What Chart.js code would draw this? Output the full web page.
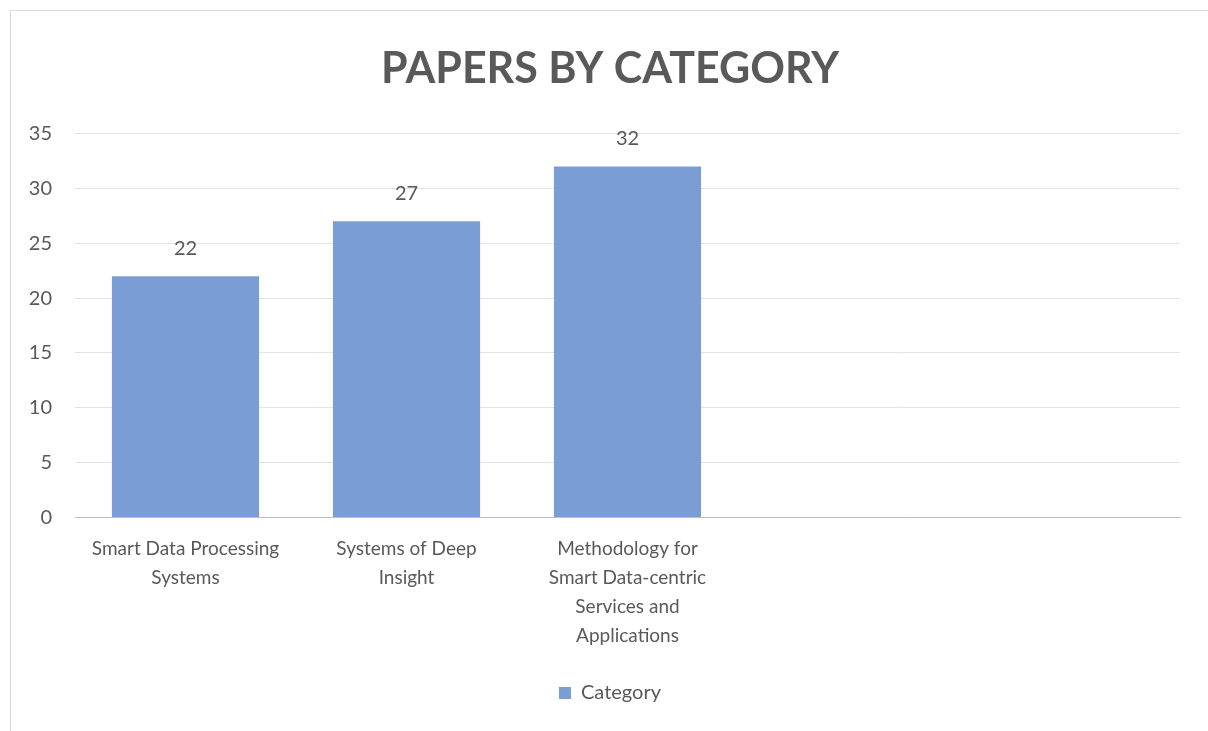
<!DOCTYPE html>
<html>
<head>
<meta charset="utf-8">
<script src="https://cdn.jsdelivr.net/npm/chart.js@4/dist/chart.umd.min.js"></script>
<style>
  html, body { margin: 0; padding: 0; background: #fff; }
  .frame {
    position: absolute; left: 10px; top: 10px;
    width: 1198px; height: 721px;
    border-left: 1px solid #d9d9d9; border-top: 1px solid #d9d9d9;
  }
  .frame canvas { display: block; }
</style>
</head>
<body>
<div class="frame"><canvas id="chart-papers"></canvas></div>
<script>
// categories (last two slots are empty in the sheet)
const categories = [
  ['Smart Data Processing', 'Systems'],
  ['Systems of Deep', 'Insight'],
  ['Methodology for', 'Smart Data-centric', 'Services and', 'Applications'],
  '',
  ''
];
const paperCounts = [22, 27, 32, null, null];
const yTicks = [0, 5, 10, 15, 20, 25, 30, 35];

const TEXT_GRAY = '#595959';
const FONT = 'Lato, "Open Sans", sans-serif';

// writes the value above each bar
var barValueLabels = {
  id: 'barValueLabels',
  afterDatasetsDraw: function (chart) {
    var ctx = chart.ctx;
    var meta = chart.getDatasetMeta(0);
    ctx.save();
    ctx.fillStyle = TEXT_GRAY;
    ctx.font = '20px ' + FONT;
    ctx.textAlign = 'center';
    ctx.textBaseline = 'middle';
    meta.data.forEach(function (bar, i) {
      var v = chart.data.datasets[0].data[i];
      if (v == null) return;
      ctx.fillText(v, bar.x, bar.y - 28);
    });
    ctx.restore();
  }
};

// padding is uneven, so recentre title and legend on the whole canvas
var centerBlocks = {
  id: 'centerBlocks',
  afterLayout: function (chart) {
    [chart.titleBlock, chart.legend].forEach(function (b) {
      if (!b) return;
      var shift = (chart.width - (b.left + b.right)) / 2;
      b.left += shift;
      b.right += shift;
      if (b.legendHitBoxes) {
        b.legendHitBoxes.forEach(function (h) { h.left += shift; });
      }
    });
  }
};

var papersChartConfig = {
  type: 'bar',
  data: {
    labels: categories,
    datasets: [{
      label: 'Category',
      data: paperCounts,
      backgroundColor: '#7b9dd5',
      borderWidth: 0,
      categoryPercentage: 0.666,
      barPercentage: 1
    }]
  },
  options: {
    responsive: true,
    maintainAspectRatio: false,
    animation: false,
    layout: { padding: { left: 16, right: 29, top: 0, bottom: 19 } },
    plugins: {
      title: {
        display: true,
        text: 'PAPERS BY CATEGORY',
        color: TEXT_GRAY,
        font: { family: FONT, size: 43, weight: 'bold' },
        padding: { top: 32, bottom: 39 }
      },
      legend: {
        position: 'bottom',
        labels: {
          color: TEXT_GRAY,
          font: { family: FONT, size: 20 },
          boxWidth: 12,
          boxHeight: 12,
          padding: 10
        }
      },
      tooltip: { enabled: false }
    },
    scales: {
      x: {
        grid: { display: false },
        border: { display: true, color: '#bfbfbf', width: 1 },
        ticks: {
          color: TEXT_GRAY,
          font: { family: FONT, size: 19, lineHeight: 1.52 },
          maxRotation: 0,
          autoSkip: false,
          padding: 9
        },
        afterFit: function (axis) {
          axis.height += 14;
        }
      },
      y: {
        min: 0,
        max: 35,
        afterBuildTicks: function (axis) {
          axis.ticks = yTicks.map(function (v) { return { value: v }; });
        },
        afterFit: function (axis) {
          axis.width = 48;
        },
        grid: { color: '#e3e3e3', drawTicks: false },
        border: { display: false },
        ticks: {
          color: TEXT_GRAY,
          font: { family: FONT, size: 20 },
          padding: 23
        }
      }
    }
  },
  plugins: [barValueLabels, centerBlocks]
};

window.papersChart = new Chart(document.getElementById('chart-papers').getContext('2d'), papersChartConfig);
</script>
</body>
</html>
